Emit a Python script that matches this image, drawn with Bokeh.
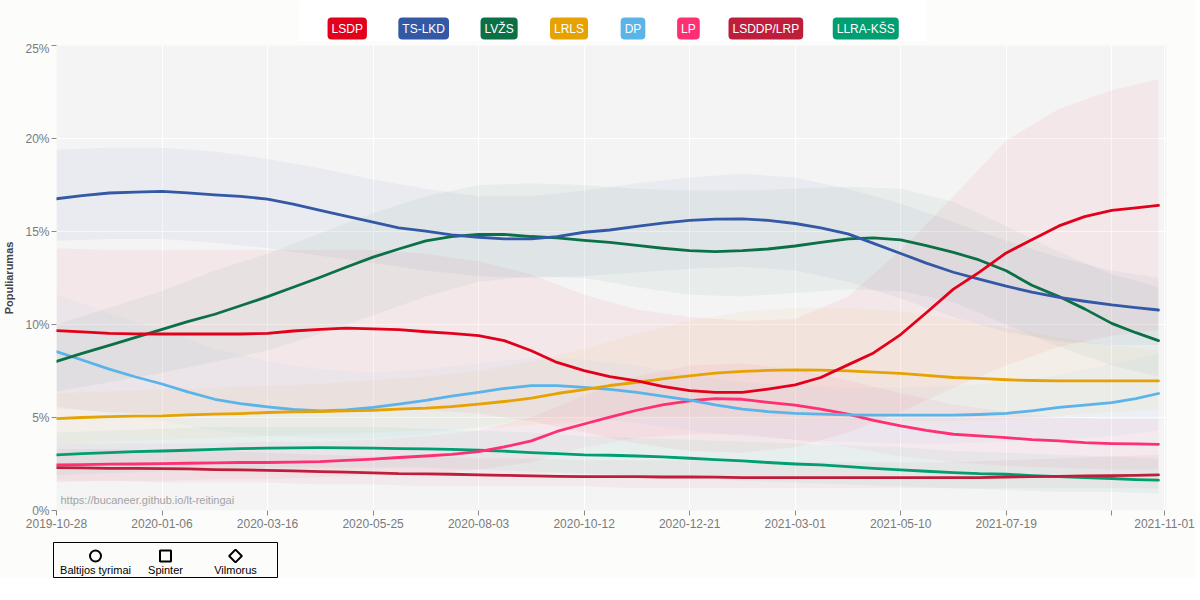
from datetime import datetime
from bokeh.plotting import figure
from bokeh.models import (Range1d, FixedTicker, DatetimeTickFormatter, PrintfTickFormatter,
                          Label, Spacer, BoxAnnotation)
from bokeh.layouts import column, row
from bokeh.embed import file_html
from bokeh.resources import INLINE
from bokeh.core.properties import value

FONT = "Liberation Sans"

# ---------------- data (percent) ----------------
# dates at which the trend lines were read
line_dates = ["2019-10-28", "2019-11-14", "2019-12-02", "2019-12-19", "2020-01-06", "2020-01-23",
              "2020-02-10", "2020-02-27", "2020-03-16", "2020-04-02", "2020-04-20", "2020-05-07",
              "2020-05-25", "2020-06-11", "2020-06-29", "2020-07-16", "2020-08-03", "2020-08-20",
              "2020-09-07", "2020-09-24", "2020-10-12", "2020-10-29", "2020-11-16", "2020-12-03",
              "2020-12-21", "2021-01-07", "2021-01-25", "2021-02-11", "2021-03-01", "2021-03-18",
              "2021-04-05", "2021-04-22", "2021-05-10", "2021-05-27", "2021-06-14", "2021-07-01",
              "2021-07-19", "2021-08-05", "2021-08-23", "2021-09-09", "2021-09-27", "2021-10-13",
              "2021-10-28"]
# dates at which the uncertainty bands were read
band_dates = ["2019-10-28", "2019-12-02", "2020-01-06", "2020-02-10", "2020-03-16", "2020-04-20",
              "2020-05-25", "2020-06-29", "2020-08-03", "2020-09-07", "2020-10-12", "2020-11-16",
              "2020-12-21", "2021-01-25", "2021-03-01", "2021-04-05", "2021-05-10", "2021-06-14",
              "2021-07-19", "2021-08-23", "2021-09-27", "2021-10-28"]

parties = ["LSDP", "TS-LKD", "LVŽS", "LRLS", "DP", "LP", "LSDDP/LRP", "LLRA-KŠS"]
colors = ["#e2001a", "#3358a6", "#0c7046", "#e6a200", "#5ab4e9", "#ff2f73", "#be1e3b", "#009e71"]

lsdp = [9.67, 9.60, 9.52, 9.50, 9.49, 9.49, 9.49, 9.49, 9.52, 9.65, 9.74, 9.80, 9.77, 9.72,
        9.61, 9.52, 9.40, 9.13, 8.59, 7.96, 7.52, 7.20, 6.97, 6.67, 6.44, 6.35, 6.35, 6.53,
        6.75, 7.15, 7.83, 8.47, 9.46, 10.63, 11.90, 12.80, 13.85, 14.55, 15.30, 15.80, 16.13,
        16.27, 16.40]
ts_lkd = [16.76, 16.93, 17.07, 17.12, 17.16, 17.08, 16.97, 16.89, 16.74, 16.47, 16.13, 15.83,
          15.50, 15.20, 15.02, 14.82, 14.69, 14.60, 14.60, 14.73, 14.96, 15.08, 15.27, 15.45,
          15.60, 15.66, 15.68, 15.60, 15.43, 15.20, 14.87, 14.36, 13.82, 13.30, 12.81, 12.44,
          12.06, 11.74, 11.46, 11.25, 11.05, 10.91, 10.78]
lvzs = [8.02, 8.45, 8.88, 9.29, 9.74, 10.15, 10.55, 11.01, 11.50, 12.00, 12.54, 13.08, 13.62,
        14.06, 14.50, 14.73, 14.84, 14.84, 14.73, 14.66, 14.52, 14.41, 14.25, 14.10, 13.97,
        13.92, 13.97, 14.06, 14.22, 14.42, 14.60, 14.66, 14.55, 14.24, 13.88, 13.47, 12.89,
        12.11, 11.50, 10.84, 10.06, 9.56, 9.13]
lrls = [4.94, 5.00, 5.05, 5.07, 5.09, 5.14, 5.18, 5.21, 5.27, 5.30, 5.32, 5.36, 5.39, 5.45,
        5.50, 5.59, 5.72, 5.86, 6.04, 6.29, 6.50, 6.72, 6.89, 7.08, 7.24, 7.39, 7.48, 7.53,
        7.56, 7.55, 7.51, 7.44, 7.37, 7.26, 7.15, 7.10, 7.03, 6.99, 6.97, 6.97, 6.97, 6.97, 6.97]
dp = [8.54, 8.09, 7.60, 7.19, 6.80, 6.38, 5.98, 5.75, 5.57, 5.43, 5.36, 5.41, 5.54, 5.72,
      5.92, 6.15, 6.35, 6.56, 6.71, 6.71, 6.62, 6.51, 6.35, 6.15, 5.93, 5.68, 5.45, 5.32,
      5.22, 5.18, 5.14, 5.13, 5.13, 5.13, 5.13, 5.16, 5.22, 5.36, 5.54, 5.66, 5.80, 6.02, 6.29]
lp = [2.45, 2.47, 2.49, 2.50, 2.52, 2.54, 2.56, 2.58, 2.58, 2.60, 2.63, 2.69, 2.76, 2.85,
      2.93, 3.02, 3.17, 3.42, 3.74, 4.25, 4.65, 5.02, 5.39, 5.68, 5.90, 6.02, 5.98, 5.81,
      5.66, 5.45, 5.18, 4.85, 4.55, 4.31, 4.10, 4.01, 3.92, 3.81, 3.74, 3.65, 3.60, 3.58, 3.56]
lsddp = [2.31, 2.29, 2.27, 2.27, 2.25, 2.24, 2.20, 2.18, 2.16, 2.13, 2.09, 2.06, 2.02, 1.98,
         1.97, 1.95, 1.91, 1.89, 1.86, 1.84, 1.82, 1.82, 1.82, 1.80, 1.80, 1.79, 1.77, 1.77,
         1.77, 1.77, 1.77, 1.77, 1.77, 1.77, 1.77, 1.77, 1.80, 1.82, 1.84, 1.86, 1.88, 1.89, 1.91]
llra = [2.99, 3.06, 3.11, 3.17, 3.20, 3.24, 3.29, 3.33, 3.35, 3.37, 3.38, 3.37, 3.35, 3.33,
        3.31, 3.29, 3.24, 3.19, 3.11, 3.06, 2.99, 2.97, 2.93, 2.88, 2.81, 2.74, 2.67, 2.58,
        2.50, 2.45, 2.36, 2.27, 2.18, 2.11, 2.04, 1.98, 1.95, 1.88, 1.82, 1.77, 1.72, 1.66, 1.63]

# uncertainty bands (upper / lower)
lsdp_hi = [14.1, 14.0, 14.0, 14.0, 14.0, 14.0, 14.0, 13.8, 13.4, 12.7, 11.6, 10.8,
           10.4, 10.2, 10.3, 11.5, 14.0, 16.9, 19.9, 21.6, 22.6, 23.2]
lsdp_lo = [5.5, 5.3, 5.2, 5.2, 5.3, 5.4, 5.5, 5.4, 5.2, 4.8, 4.2, 3.6,
           3.2, 3.1, 3.4, 4.2, 5.3, 6.6, 7.8, 8.8, 9.4, 9.7]
ts_lkd_hi = [19.4, 19.5, 19.5, 19.3, 18.9, 18.4, 17.8, 17.3, 16.9, 16.9, 17.2, 17.6,
             17.9, 18.1, 17.9, 17.3, 16.5, 15.5, 14.5, 13.6, 12.9, 12.5]
ts_lkd_lo = [14.5, 14.6, 14.6, 14.4, 14.1, 13.7, 13.3, 12.9, 12.6, 12.5, 12.6, 12.8,
             13.0, 13.1, 12.9, 12.3, 11.4, 10.4, 9.6, 9.1, 8.9, 8.9]
lvzs_hi = [10.0, 10.9, 11.8, 12.9, 13.8, 14.9, 16.0, 16.9, 17.5, 17.6, 17.5, 17.3,
           17.2, 17.2, 17.3, 17.4, 17.3, 16.6, 15.3, 13.9, 12.7, 12.0]
lvzs_lo = [6.4, 6.9, 7.4, 8.0, 8.6, 9.5, 10.5, 11.5, 12.3, 12.6, 12.5, 12.0,
           11.6, 11.5, 11.7, 11.9, 11.8, 11.2, 10.0, 8.8, 7.8, 7.2]
lrls_hi = [6.3, 6.4, 6.5, 6.6, 6.7, 6.8, 7.0, 7.2, 7.5, 8.0, 8.7, 9.5,
           10.2, 10.7, 10.9, 10.9, 10.7, 10.3, 9.8, 9.3, 8.9, 8.6]
lrls_lo = [3.6, 3.7, 3.8, 3.9, 4.0, 4.1, 4.2, 4.3, 4.4, 4.6, 4.8, 5.0,
           5.0, 5.0, 5.0, 4.9, 4.8, 4.8, 4.9, 5.1, 5.3, 5.4]
dp_hi = [11.6, 10.6, 9.7, 8.7, 8.0, 7.6, 7.4, 7.6, 7.9, 8.2, 8.1, 7.8,
         7.3, 6.9, 6.7, 6.6, 6.6, 6.7, 6.9, 7.3, 7.9, 8.4]
dp_lo = [5.6, 5.2, 4.8, 4.3, 4.0, 3.9, 3.9, 4.1, 4.5, 4.9, 5.0, 4.7,
         4.3, 4.0, 3.8, 3.7, 3.6, 3.6, 3.7, 3.8, 4.0, 4.3]
lp_hi = [3.6, 3.6, 3.6, 3.6, 3.7, 3.7, 3.8, 4.0, 4.3, 5.0, 6.2, 7.2,
         7.8, 7.9, 7.6, 7.0, 6.3, 5.7, 5.3, 5.0, 4.9, 4.9]
lp_lo = [1.5, 1.6, 1.6, 1.7, 1.7, 1.8, 1.9, 2.0, 2.2, 2.6, 3.4, 3.9,
         4.1, 4.1, 3.8, 3.4, 2.9, 2.6, 2.4, 2.3, 2.2, 2.2]
lsddp_hi = [3.3, 3.3, 3.2, 3.2, 3.1, 3.0, 2.9, 2.9, 2.8, 2.8, 2.7, 2.7,
            2.7, 2.6, 2.6, 2.6, 2.6, 2.6, 2.7, 2.8, 2.9, 3.0]
lsddp_lo = [1.6, 1.6, 1.5, 1.5, 1.5, 1.4, 1.4, 1.3, 1.3, 1.3, 1.3, 1.2,
            1.2, 1.2, 1.2, 1.2, 1.2, 1.2, 1.2, 1.2, 1.2, 1.2]
llra_hi = [4.2, 4.3, 4.4, 4.5, 4.5, 4.5, 4.5, 4.4, 4.3, 4.2, 4.0, 3.9,
           3.8, 3.7, 3.6, 3.5, 3.4, 3.2, 3.1, 3.0, 2.9, 2.8]
llra_lo = [1.9, 2.0, 2.1, 2.2, 2.3, 2.3, 2.3, 2.3, 2.2, 2.1, 2.0, 1.9,
           1.8, 1.6, 1.5, 1.4, 1.3, 1.2, 1.1, 1.0, 1.0, 0.9]

means = [lsdp, ts_lkd, lvzs, lrls, dp, lp, lsddp, llra]
highs = [lsdp_hi, ts_lkd_hi, lvzs_hi, lrls_hi, dp_hi, lp_hi, lsddp_hi, llra_hi]
lows = [lsdp_lo, ts_lkd_lo, lvzs_lo, lrls_lo, dp_lo, lp_lo, lsddp_lo, llra_lo]

pollsters = ["Baltijos tyrimai", "Spinter", "Vilmorus"]
pollster_markers = ["circle", "square", "square"]
pollster_angles = [0, 0, 45]

x_tick_labels = ["2019-10-28", "2020-01-06", "2020-03-16", "2020-05-25", "2020-08-03",
                 "2020-10-12", "2020-12-21", "2021-03-01", "2021-05-10", "2021-07-19",
                 "", "2021-11-01"]
x_tick_dates = ["2019-10-28", "2020-01-06", "2020-03-16", "2020-05-25", "2020-08-03",
                "2020-10-12", "2020-12-21", "2021-03-01", "2021-05-10", "2021-07-19",
                "2021-09-27", "2021-11-01"]
y_ticks = [0, 5, 10, 15, 20, 25]

# ---------------- layout constants ----------------
W = 1195
FRAME_L, FRAME_W = 55, 1110
PAGE_BG = "#fcfcfb"
TOP_H = 41
badge_centers = [346, 422.5, 498, 568, 632, 687.5, 765, 865]

def to_dt(d):
    return datetime.strptime(d, "%Y-%m-%d")
EPOCH = datetime(1970, 1, 1)
def ms(d):
    return (to_dt(d) - EPOCH).total_seconds() * 1000.0

line_x = [to_dt(d) for d in line_dates]
band_x = [to_dt(d) for d in band_dates]

# ---------------- top legend (party badges) ----------------
# in a column Bokeh aligns this frame with the main frame, so map page pixels onto it
top = figure(width=W, height=TOP_H, x_range=Range1d(FRAME_L, FRAME_L + FRAME_W),
             y_range=Range1d(0, TOP_H),
             toolbar_location=None, output_backend="svg", min_border=0,
             background_fill_color=PAGE_BG, border_fill_color=PAGE_BG)
top.axis.visible = False
top.grid.visible = False
top.outline_line_color = None
top.add_layout(BoxAnnotation(left=298, right=925, bottom=0, top=TOP_H,
                             fill_color="white", fill_alpha=1.0, line_color=None))
for name, c, cx in zip(parties, colors, badge_centers):
    top.add_layout(Label(x=cx, y=TOP_H - 28, text=name,
                         text_align="center", text_baseline="middle",
                         text_color="white", text_font=FONT, text_font_size="12px",
                         background_fill_color=c, background_fill_alpha=1.0,
                         padding=4, border_radius=4))

# ---------------- main figure ----------------
p = figure(frame_width=FRAME_W, frame_height=465, x_axis_type="datetime",
           x_range=Range1d(datetime(2019, 10, 28), datetime(2021, 11, 2, 8)),
           y_range=Range1d(0, 25),
           min_border_left=FRAME_L, min_border_right=W - FRAME_L - FRAME_W, min_border_top=4,
           min_border_bottom=24,
           toolbar_location=None, output_backend="svg",
           background_fill_color="#f4f4f5", border_fill_color=PAGE_BG)
p.outline_line_color = None

# bands
for c, hi, lo in zip(colors, highs, lows):
    p.varea(x=band_x, y1=lo, y2=hi, fill_color=c, fill_alpha=0.05)

# lines (reverse order so LSDP is drawn on top)
for c, m in reversed(list(zip(colors, means))):
    p.line(x=line_x, y=m, line_color=c, line_width=2.8, line_join="round", line_cap="round")

# axes
tick_ms = [ms(d) for d in x_tick_dates]
p.xaxis.ticker = FixedTicker(ticks=tick_ms)
fmt = "%Y-%m-%d"
p.xaxis.formatter = DatetimeTickFormatter(milliseconds=fmt, seconds=fmt, minsec=fmt, minutes=fmt,
                                          hourmin=fmt, hours=fmt, days=fmt, months=fmt, years=fmt)
p.xaxis.major_label_overrides = {t: lab for t, lab in zip(tick_ms, x_tick_labels)}
p.yaxis.ticker = FixedTicker(ticks=y_ticks)
p.yaxis.formatter = PrintfTickFormatter(format="%d%%")

for ax in (p.xaxis[0], p.yaxis[0]):
    ax.axis_line_color = None
    ax.major_tick_in = 0
    ax.major_tick_out = 5
    ax.major_tick_line_color = "#8a8a8a"
    ax.minor_tick_line_color = None
    ax.major_label_text_color = "#7a7a7a"
    ax.major_label_text_font = FONT
    ax.major_label_text_font_size = "12px"
    ax.major_label_standoff = 3
p.yaxis.major_label_standoff = 2
p.yaxis.axis_label = "Populiarumas"
p.yaxis.axis_label_text_font = FONT
p.yaxis.axis_label_text_font_size = "11px"
p.yaxis.axis_label_text_font_style = "bold"
p.yaxis.axis_label_text_color = "#444444"
p.yaxis.axis_label_standoff = 7

p.xgrid.grid_line_color = "white"
p.ygrid.grid_line_color = "white"
p.xgrid.grid_line_width = 1
p.ygrid.grid_line_width = 1

# watermark
p.add_layout(Label(x=4, y=5, x_units="screen", y_units="screen",
                   text="https://bucaneer.github.io/lt-reitingai",
                   text_align="left", text_baseline="bottom",
                   text_color="#a3a3a3", text_font=FONT, text_font_size="11px"))

# ---------------- pollster legend ----------------
leg = figure(width=225, height=36, x_range=Range1d(0, 225), y_range=Range1d(0, 36),
             toolbar_location=None, output_backend="svg", min_border=0,
             background_fill_color=PAGE_BG, border_fill_color=PAGE_BG)
leg.axis.visible = False
leg.grid.visible = False
leg.outline_line_color = "black"
leg.outline_line_width = 1
leg.outline_line_alpha = 1.0
lx = [42 + 70 * i for i in range(len(pollsters))]
leg.scatter(x=lx, y=[22.5] * len(lx), marker=pollster_markers, angle=pollster_angles,
            angle_units="deg", size=[11, 11, 9], fill_color=None,
            line_color="black", line_width=2)
leg.text(x=lx, y=[8.5] * len(lx), text=pollsters, text_align="center", text_baseline="middle",
         text_font=value(FONT), text_font_size="11px", text_color="black")

layout = column(top, p, Spacer(height=8), row(Spacer(width=53), leg))
layout.styles = {"background-color": PAGE_BG}

open("out.html", "w").write(file_html(layout, INLINE))
